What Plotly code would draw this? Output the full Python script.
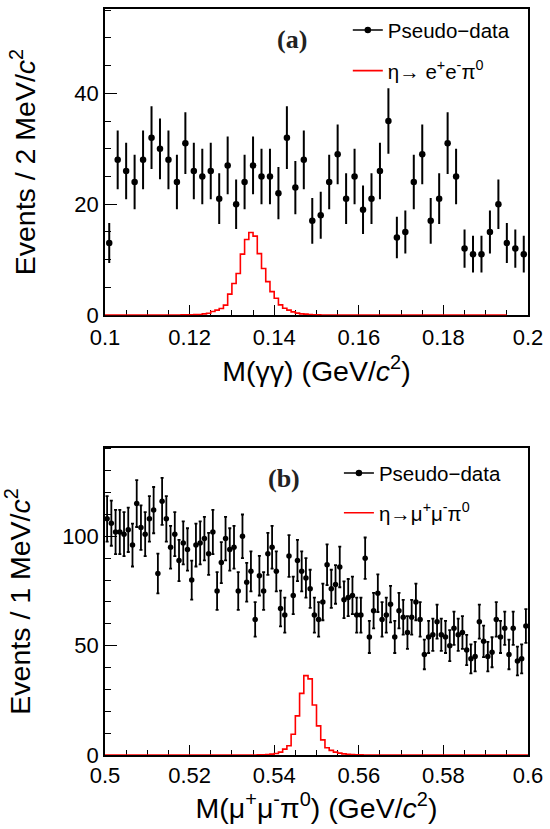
import numpy as np
import plotly.graph_objects as go

# ---------------- data: panel (a) ----------------
a_range = [0.1, 0.2]
a_bin = 0.002
a_counts = [13, 28, 26, 24, 28, 32, 30, 28, 24, 31,
            26, 25, 26, 21, 27, 20, 24, 27, 25, 25,
            22, 32, 23, 28, 17, 18, 24, 29, 21, 25,
            19, 21, 26, 35, 14, 15, 24, 29, 17, 21,
            31, 25, 12, 11, 11, 15, 20, 13, 12, 11]
# signal shape, 1 MeV bins starting at 0.100
a_sig_lo = 0.100
a_sig_bin = 0.001
a_sig = [0, 0, 0, 0, 0, 0, 0, 0, 0, 0,
         0, 0, 0, 0, 0.02, 0.02, 0.03, 0.03, 0.05, 0.06,
         0.07, 0.09, 0.13, 0.24, 0.35, 0.65, 0.9, 1.2, 1.8, 3.8,
         5.7, 7.5, 11.0, 13.65, 14.9, 14.25, 11.1, 8.4, 6.05, 4.25,
         3.05, 1.85, 1.25, 0.9, 0.6, 0.36, 0.24, 0.18, 0.12, 0.08,
         0.05, 0.04, 0.03, 0.02, 0.02, 0.01, 0, 0, 0, 0,
         0, 0, 0, 0, 0, 0, 0, 0, 0, 0,
         0, 0, 0, 0, 0, 0, 0, 0, 0, 0,
         0, 0, 0, 0, 0, 0, 0, 0, 0, 0,
         0, 0, 0, 0, 0]

# ---------------- data: panel (b) ----------------
b_range = [0.5, 0.6]
b_bin = 0.001
b_counts = [108, 106, 102, 102, 101, 103, 96, 115, 104, 101,
            108, 112, 83, 116, 108, 95, 101, 89, 97, 94,
            80, 96, 97, 99, 92, 102, 75, 88, 99, 94,
            95, 75, 100, 79, 84, 62, 82, 75, 92, 95,
            84, 67, 64, 91, 73, 89, 84, 81, 76, 64,
            62, 70, 87, 76, 78, 86, 71, 72, 73, 64,
            64, 90, 54, 66, 74, 62, 64, 69, 54, 66,
            63, 56, 63, 70, 62, 46, 54, 55, 61, 55,
            54, 50, 58, 55, 56, 48, 44, 45, 61, 52,
            45, 47, 62, 54, 58, 46, 58, 43, 44, 59]
b_sig_lo = 0.500
b_sig_bin = 0.001
b_sig = [0] * 30 + [0, 0, 0, 0, 0, 0, 0.05, 0.1, 0.2, 0.4,
                    0.7, 1.3, 2.7, 4.2, 9.5, 17.9, 28.2, 36.3, 34.8, 22.9,
                    13.3, 6.9, 3.3, 2.1, 1.3, 0.85, 0.5, 0.3, 0.15, 0.08,
                    0.04, 0.02] + [0] * 38

FAM = "Liberation Sans, Arial, sans-serif"
TICK_FONT = dict(family=FAM, size=22, color="black")
TITLE_FONT = dict(family=FAM, size=28.5, color="black")
LEG_FONT = dict(family=FAM, size=20.5, color="black")
LABEL_FONT = dict(family="Liberation Serif, Times New Roman, serif", size=26, color="#222222")


def centers(lo, width, n):
    return lo + width * (np.arange(n) + 0.5)


def hist_xy(lo, width, vals):
    edges = lo + width * np.arange(len(vals) + 1)
    return edges, list(vals) + [vals[-1]]


fig = go.Figure()

# panel (a)
ax = centers(a_range[0], a_bin, len(a_counts))
ay = np.array(a_counts, dtype=float)
fig.add_trace(go.Scatter(x=ax, y=ay, mode="markers", xaxis="x", yaxis="y",
                         marker=dict(color="black", size=6.5),
                         error_y=dict(type="data", array=np.sqrt(ay), color="black",
                                      thickness=2, width=0),
                         showlegend=False, hoverinfo="skip"))
hx, hy = hist_xy(a_sig_lo, a_sig_bin, a_sig)
fig.add_trace(go.Scatter(x=hx, y=hy, mode="lines", line_shape="hv", xaxis="x", yaxis="y",
                         line=dict(color="red", width=1.6), showlegend=False, hoverinfo="skip"))
fig.add_trace(go.Scatter(x=[None], y=[None], mode="lines+markers", xaxis="x", yaxis="y",
                         line=dict(color="black", width=1.5), marker=dict(color="black", size=6.5),
                         error_y=dict(type="constant", value=1, color="black", thickness=2, width=0),
                         name="Pseudo−data", legend="legend", legendgroup="a1"))
fig.add_trace(go.Scatter(x=[None], y=[None], mode="lines", xaxis="x", yaxis="y",
                         line=dict(color="red", width=1.6),
                         name="η→ e<sup>+</sup>e<sup>-</sup>π<sup>0</sup>",
                         legend="legend", legendgroup="a2"))

# panel (b)
bx = centers(b_range[0], b_bin, len(b_counts))
by = np.array(b_counts, dtype=float)
fig.add_trace(go.Scatter(x=bx, y=by, mode="markers", xaxis="x2", yaxis="y2",
                         marker=dict(color="black", size=5.5),
                         error_y=dict(type="data", array=np.sqrt(by), color="black",
                                      thickness=1.8, width=1.5),
                         showlegend=False, hoverinfo="skip"))
hx, hy = hist_xy(b_sig_lo, b_sig_bin, b_sig)
fig.add_trace(go.Scatter(x=hx, y=hy, mode="lines", line_shape="hv", xaxis="x2", yaxis="y2",
                         line=dict(color="red", width=1.6), showlegend=False, hoverinfo="skip"))
fig.add_trace(go.Scatter(x=[None], y=[None], mode="lines+markers", xaxis="x2", yaxis="y2",
                         line=dict(color="black", width=1.5), marker=dict(color="black", size=6.5),
                         error_y=dict(type="constant", value=1, color="black", thickness=2, width=0),
                         name="Pseudo−data", legend="legend2", legendgroup="b1"))
fig.add_trace(go.Scatter(x=[None], y=[None], mode="lines", xaxis="x2", yaxis="y2",
                         line=dict(color="red", width=1.6),
                         name="η→μ<sup>+</sup>μ<sup>-</sup>π<sup>0</sup>",
                         legend="legend2", legendgroup="b2"))


def xaxis_style(rng, title, anchor, lab_off, tit_off):
    return dict(range=rng, anchor=anchor, showline=True, linecolor="black", linewidth=1.5,
                mirror=True, ticks="inside", ticklen=10, tickwidth=1.3, tickcolor="black",
                dtick=0.02, tick0=rng[0], tickfont=TICK_FONT, showgrid=False, zeroline=False,
                ticklabelstandoff=lab_off,
                minor=dict(ticks="inside", ticklen=5, dtick=0.005, tickcolor="black", tickwidth=1.2),
                title=dict(text=title, font=TITLE_FONT, standoff=tit_off), layer="below traces")


def yaxis_style(rng, dtick, mdtick, title, domain, anchor):
    return dict(range=rng, domain=domain, anchor=anchor, showline=True, linecolor="black",
                linewidth=1.5, mirror=True, ticks="inside", ticklen=12, tickwidth=1.3,
                tickcolor="black", dtick=dtick, tick0=0, tickfont=TICK_FONT, showgrid=False,
                zeroline=False, ticklabelstandoff=0,
                minor=dict(ticks="inside", ticklen=6, dtick=mdtick, tickcolor="black", tickwidth=1.2),
                title=dict(text=title, font=TITLE_FONT, standoff=30), layer="below traces")


fig.update_layout(
    width=550, height=829,
    margin=dict(l=105, r=19, t=7, b=74),
    paper_bgcolor="white", plot_bgcolor="white",
    xaxis=xaxis_style(a_range, "M(γγ) (GeV/<i>c</i><sup>2</sup>)", "y", 2, 12),
    yaxis=yaxis_style([0, 55.2], 20, 5, "Events / 2 MeV/<i>c</i><sup>2</sup>", [0.5896, 1.0], "x"),
    xaxis2=xaxis_style(b_range, "M(μ<sup>+</sup>μ<sup>-</sup>π<sup>0</sup>) (GeV/<i>c</i><sup>2</sup>)",
                       "y2", 0, 9),
    yaxis2=yaxis_style([0, 140.5], 50, 10, "Events / 1 MeV/<i>c</i><sup>2</sup>", [0.0, 0.4118], "x2"),
    legend=dict(x=0.574, y=0.9985, xanchor="left", yanchor="top", font=LEG_FONT,
                bgcolor="rgba(0,0,0,0)", traceorder="grouped", tracegroupgap=11, itemwidth=30),
    legend2=dict(x=0.553, y=0.4045, xanchor="left", yanchor="top", font=LEG_FONT,
                 bgcolor="rgba(0,0,0,0)", traceorder="grouped", tracegroupgap=10, itemwidth=30),
    annotations=[
        dict(text="<b>(a)</b>", xref="x domain", yref="y domain", x=0.442, y=0.899,
             xanchor="center", yanchor="middle", showarrow=False, font=LABEL_FONT),
        dict(text="<b>(b)</b>", xref="x2 domain", yref="y2 domain", x=0.424, y=0.899,
             xanchor="center", yanchor="middle", showarrow=False, font=LABEL_FONT),
    ],
)

fig.write_html("out.html", config={"displayModeBar": False},
               post_script="document.body.style.margin='0px';")
